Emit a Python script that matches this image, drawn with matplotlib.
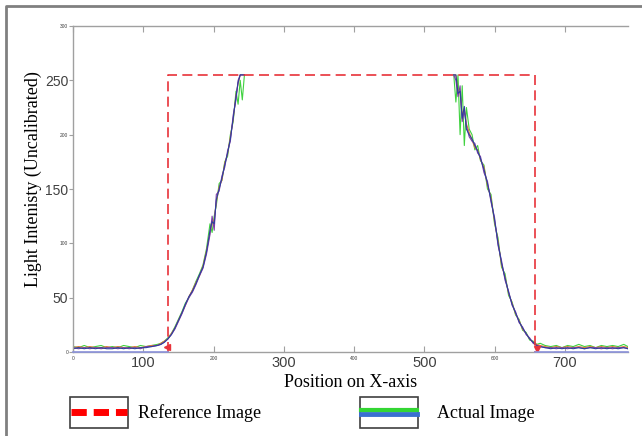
import matplotlib
matplotlib.use("Agg")
import matplotlib.pyplot as plt
from matplotlib.patches import Rectangle

# ---- reference (ideal) profile ----
ref_x = [135, 135, 658, 658]
ref_y = [0, 255, 255, 0]
arrow_x = [134, 660]
arrow_y = [5, 3]
floor_x = [[0, 135], [658, 790]]

# ---- measured profile, left edge ----
x_left = [0, 8, 16, 24, 32, 40, 48, 56, 64, 72, 80, 88, 96, 104, 112, 120,
          125, 130, 135, 140, 145, 150, 155, 160, 165, 170, 175, 180, 185, 190,
          195, 198, 201, 204, 208, 212, 216, 220, 224, 228, 232, 235, 238, 241, 244]
blue_left = [3, 4, 3, 4, 3, 4, 3, 3, 4, 3, 4, 3, 4, 4, 5, 6,
             7, 9, 12, 16, 22, 29, 36, 44, 51, 56, 63, 71, 78, 92,
             112, 120, 118, 140, 150, 160, 172, 183, 196, 215, 235, 248, 255, 255, 255]
green_left = [5, 4, 6, 4, 5, 6, 4, 5, 4, 6, 5, 4, 6, 5, 6, 7,
              8, 10, 13, 17, 23, 30, 37, 45, 50, 57, 65, 72, 80, 95,
              118, 110, 125, 135, 155, 158, 175, 180, 200, 212, 240, 228, 250, 232, 255]
purple_left = [4, 3, 4, 3, 4, 3, 4, 4, 3, 4, 3, 4, 3, 5, 5, 6,
               7, 9, 12, 16, 21, 28, 35, 43, 50, 55, 62, 70, 77, 90,
               108, 125, 112, 145, 148, 162, 170, 185, 194, 218, 232, 250, 255, 255, 255]
orange_left = [4, 5, 4, 5, 4, 4, 5, 4, 5, 4, 4, 5, 4, 5, 6, 6,
               8, 10, 12, 17, 22, 29, 36, 43, 51, 57, 64, 70, 79, 93,
               110, 118, 122, 138, 152, 158, 174, 182, 198, 214, 236, 247, 255, 255, 255]

# ---- measured profile, right edge ----
x_right = [542, 545, 548, 551, 554, 557, 560, 564, 568, 572, 576, 580,
           585, 590, 595, 600, 605, 610, 615, 620, 625, 630, 635, 640, 645, 650, 655, 660, 665,
           672, 680, 688, 696, 704, 712, 720, 728, 736, 744, 752, 760, 768, 776, 784, 790]
blue_right = [255, 255, 238, 240, 215, 226, 205, 200, 196, 190, 185, 178,
              168, 155, 140, 122, 100, 82, 68, 55, 44, 36, 28, 22, 17, 12, 9, 6, 5,
              4, 3, 4, 3, 4, 3, 4, 3, 4, 3, 4, 3, 4, 3, 4, 3]
green_right = [255, 230, 255, 200, 245, 190, 225, 205, 200, 186, 190, 176,
               172, 150, 145, 118, 105, 78, 72, 52, 46, 34, 30, 20, 18, 11, 10, 7, 8,
               6, 5, 6, 4, 6, 5, 7, 5, 6, 4, 6, 5, 6, 5, 7, 5]
purple_right = [255, 250, 235, 245, 212, 222, 208, 198, 194, 192, 183, 180,
                165, 157, 138, 124, 98, 84, 66, 56, 43, 37, 27, 23, 16, 13, 8, 6, 5,
                4, 4, 3, 4, 3, 4, 4, 3, 4, 4, 3, 4, 3, 4, 4, 3]
orange_right = [255, 255, 240, 238, 218, 224, 210, 202, 195, 188, 186, 177,
                170, 153, 142, 120, 102, 80, 69, 54, 45, 35, 29, 21, 17, 12, 9, 7, 6,
                5, 4, 5, 4, 5, 4, 5, 4, 5, 4, 5, 4, 5, 4, 5, 4]

x_ticks = [0, 100, 200, 300, 400, 500, 600, 700]
y_ticks = [0, 50, 100, 150, 200, 250, 300]

SERIF = "Liberation Serif"
SANS = "Liberation Sans"
RED = "#e8323a"

fig = plt.figure(figsize=(6.42, 4.36), dpi=100)
ax = fig.add_axes([73 / 642, 1 - 352 / 436, 555 / 642, 326 / 436])

for fx in floor_x:
    ax.plot(fx, [0, 0], color="#8c93dc", lw=1.2, clip_on=False, zorder=3)

series = [
    (green_left, green_right, "#3fd23f"),
    (orange_left, orange_right, "#e07a3a"),
    (purple_left, purple_right, "#7d3fa8"),
    (blue_left, blue_right, "#2d3f9e"),
]
for left, right, color in series:
    ax.plot(x_left, left, color=color, lw=0.8)
    ax.plot(x_right, right, color=color, lw=0.8)

ax.plot(ref_x, ref_y, color=RED, lw=1.2, dashes=(6, 3.2))
ax.plot(arrow_x[:1], arrow_y[:1], marker="<", color=RED, ms=5, ls="none", clip_on=False)
ax.plot(arrow_x[1:], arrow_y[1:], marker="v", color=RED, ms=5, ls="none", clip_on=False)

ax.set_xlim(0, 790)
ax.set_ylim(0, 300)
ax.spines["right"].set_visible(False)
for s in ("left", "top", "bottom"):
    ax.spines[s].set_color("#a0a0a0")
    ax.spines[s].set_linewidth(1.0)

ax.set_xticks(x_ticks)
ax.set_yticks(y_ticks)
ax.tick_params(axis="x", direction="in", top=True, length=4, color="#a0a0a0", pad=3)
ax.tick_params(axis="y", direction="out", length=3, color="#a0a0a0", pad=0.5)
ax.set_xticklabels([str(v) for v in x_ticks], family=SANS, color="#404040")
ax.set_yticklabels([str(v) for v in y_ticks], family=SANS, color="#404040")
for v, lab in zip(x_ticks, ax.get_xticklabels()):
    lab.set_fontsize(10.5 if v % 200 else 3.5)
for v, lab in zip(y_ticks, ax.get_yticklabels()):
    lab.set_fontsize(10 if v % 100 else 3.5)

ax.set_xlabel("Position on X-axis", family=SERIF, fontsize=13, labelpad=3)
ax.set_ylabel("Light Intenisty (Uncalibrated)", family=SERIF, fontsize=13)
ax.yaxis.set_label_coords(-0.056, 0.53)

# ---- outer frame and hand-drawn legend (pixel coords) ----
ov = fig.add_axes([0, 0, 1, 1], zorder=-1)
ov.set_xlim(0, 642)
ov.set_ylim(436, 0)
ov.axis("off")
ov.plot([6, 6, 642], [436, 6, 6], color="#808080", lw=2)

ov.add_patch(Rectangle((70, 397), 58, 31, fill=False, ec="#404040", lw=1.2))
ov.plot([71, 127], [412, 412], color="red", lw=5, dashes=(2.2, 1.0))
ov.text(138, 413, "Reference Image", family=SERIF, fontsize=13, va="center")

ov.add_patch(Rectangle((360, 397), 58, 31, fill=False, ec="#404040", lw=1.2))
ov.plot([361, 417], [414, 414], color="#3a6fd0", lw=3.5)
ov.plot([361, 417], [410, 410], color="#33d633", lw=3)
ov.text(437, 413, "Actual Image", family=SERIF, fontsize=13, va="center")

fig.savefig("out.png", dpi=100)
